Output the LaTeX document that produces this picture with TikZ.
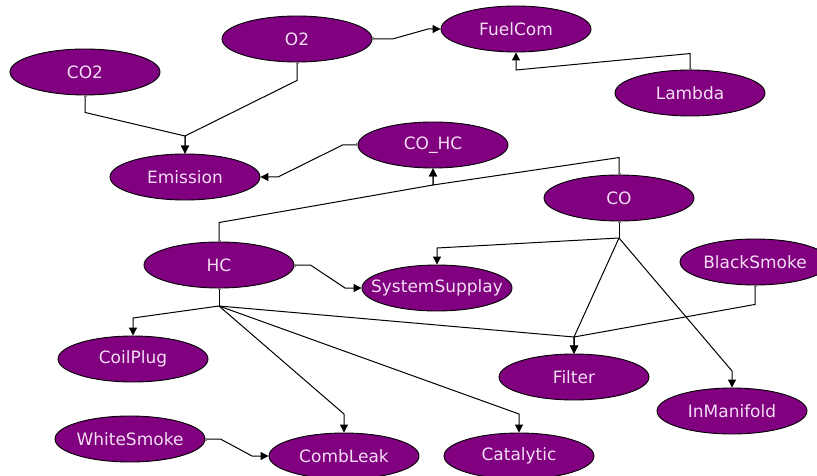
\documentclass[tikz,border=0pt]{standalone}
\usepackage{fontspec}
\setmainfont{DejaVu Sans}
\usetikzlibrary{shapes.geometric,arrows.meta}
\definecolor{nodefill}{HTML}{800080}
\definecolor{nodetext}{HTML}{F4DDF4}
\newcommand{\vtxt}[1]{\makebox[0pt]{#1}}
\tikzset{
  var/.style={ellipse,draw=black,line width=0.9pt,fill=nodefill,text=nodetext,
    minimum width=150pt,minimum height=46pt,inner sep=0pt,font=\fontsize{17}{20}\selectfont},
  edge/.style={draw=black,line width=1pt,-{Triangle[length=8pt,width=8pt,black]}},
  stubedge/.style={draw=black,line width=1pt,{Square[gray,length=2pt,width=3pt]}-{Triangle[length=8pt,width=8pt,black]}},
  stubline/.style={draw=black,line width=1pt,{Square[gray,length=2pt,width=3pt]}-},
  plain/.style={draw=black,line width=1pt}
}
\begin{document}
\begin{tikzpicture}[x=1pt,y=-1pt]
\clip (0,0) rectangle (817,476);
\fill[white] (0,0) rectangle (817,476);
% nodes
\node[var] (CO2) at (85,72) {\vtxt{CO2}};
\node[var] (O2) at (297,39) {\vtxt{O2}};
\node[var] (FuelCom) at (516,29) {\vtxt{FuelCom}};
\node[var] (Lambda) at (690,93) {\vtxt{Lambda}};
\node[var] (Emission) at (185,177) {\vtxt{Emission}};
\node[var] (COHC) at (433,145) {\vtxt{CO\_HC}};
\node[var] (CO) at (619,198) {\vtxt{CO}};
\node[var] (HC) at (219,265) {\vtxt{HC}};
\node[var] (SS) at (437,288) {\vtxt{SystemSupplay}};
\node[var] (BS) at (755,262) {\vtxt{BlackSmoke}};
\node[var] (CoilPlug) at (133,359) {\vtxt{CoilPlug}};
\node[var] (Filter) at (574,377) {\vtxt{Filter}};
\node[var] (InM) at (732,411) {\vtxt{InManifold}};
\node[var] (WS) at (130,439) {\vtxt{WhiteSmoke}};
\node[var] (CombLeak) at (344,456) {\vtxt{CombLeak}};
\node[var] (Catalytic) at (519,456) {\vtxt{Catalytic}};
% junctions
\coordinate (jE) at (185,136);
\coordinate (jF) at (428,29);
\coordinate (jL) at (516,70);
\coordinate (jCH) at (433,185);
\coordinate (jEm) at (278,177);
\coordinate (jSS) at (345,288);
\coordinate (jCO) at (619,238);
\coordinate (jSSt) at (437,248);
\coordinate (jFi) at (574,337);
\coordinate (jIM) at (732,371);
\coordinate (jHC) at (219,306);
\coordinate (jCP) at (133,318);
\coordinate (jCL) at (344,414);
\coordinate (jCa) at (519,414);
\coordinate (jWS) at (252,456);
% edges
\draw[stubedge] (CO2.south) -- ++(0,17) -- (jE) -- (Emission.north);
\draw[stubedge] (O2.south) -- ++(0,18) -- (jE) -- (Emission.north);
\draw[stubedge] (O2.east) -- ++(20,0) -- (jF) -- (FuelCom.west);
\draw[stubedge] (Lambda.north) -- ++(0,-16) -- (jL) -- (FuelCom.south);
\draw[stubedge] (COHC.west) -- ++(-15,0) -- (jEm) -- (Emission.east);
\draw[stubedge] (CO.north) -- ++(0,-17) -- (jCH) -- (COHC.south);
\draw[stubedge] (HC.north) -- ++(0,-19) -- (jCH) -- (COHC.south);
\draw[stubedge] (HC.east) -- ++(16,0) -- (jSS) -- (SS.west);
\draw[stubline] (CO.south) -- (jCO);
\draw[edge] (jCO) -- (jSSt) -- (SS.north);
\draw[edge] (jCO) -- (jFi) -- (Filter.north);
\draw[edge] (jCO) -- (jIM) -- (InM.north);
\draw[stubedge] (BS.south) -- ++(0,19) -- (jFi) -- (Filter.north);
\draw[stubline] (HC.south) -- (jHC);
\draw[edge] (jHC) -- (jCP) -- (CoilPlug.north);
\draw[edge] (jHC) -- (jCL) -- (CombLeak.north);
\draw[edge] (jHC) -- (jCa) -- (Catalytic.north);
\draw[edge] (jHC) -- (jFi) -- (Filter.north);
\draw[stubedge] (WS.east) -- ++(15,0) -- (jWS) -- (CombLeak.west);
\end{tikzpicture}
\end{document}
